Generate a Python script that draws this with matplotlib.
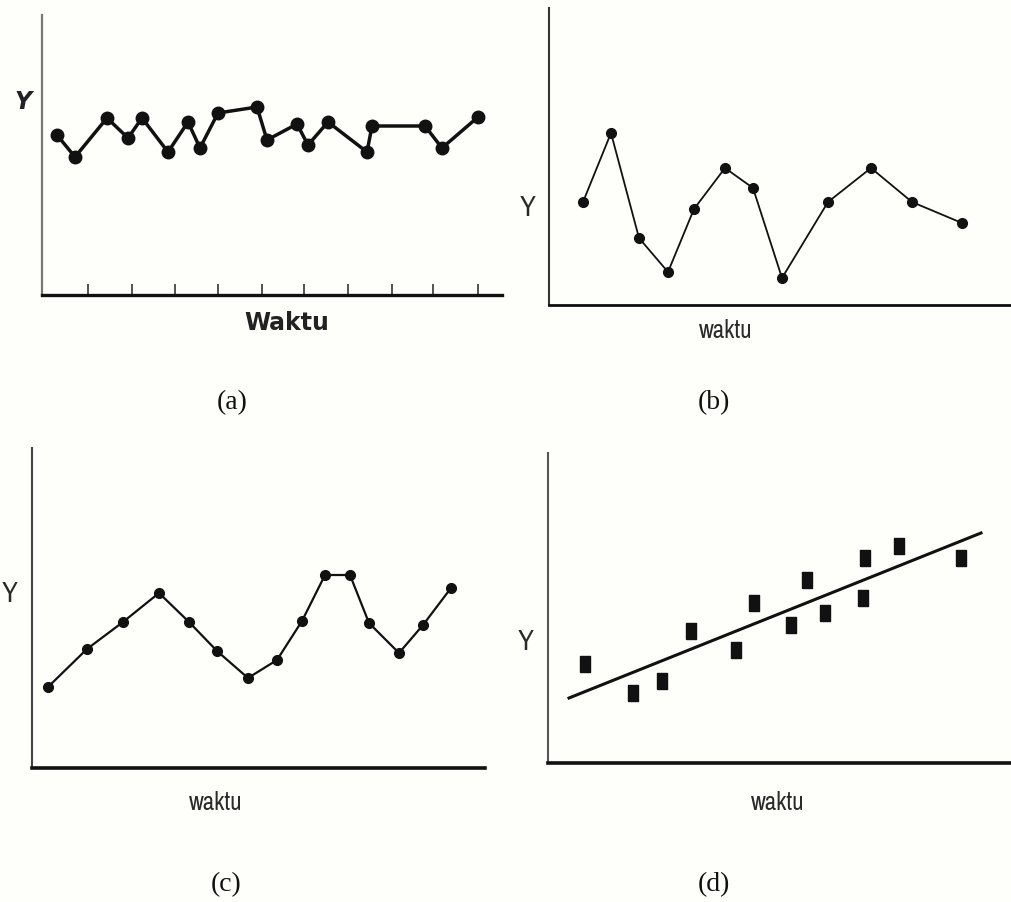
import numpy as np
import matplotlib
matplotlib.use("Agg")
import matplotlib.pyplot as plt
from matplotlib import font_manager

W, H = 1012, 902

# (a) stationary series, values read in pixels from the axes origin
a_x = [15, 33, 65, 86, 100, 126, 146, 158, 176, 215, 225, 255, 266, 286, 325, 330, 383, 400, 436]
a_y = [160, 138, 177, 157, 177, 143, 173, 147, 182, 188, 155, 171, 150, 173, 143, 169, 169, 147, 178]
a_ticks = [46, 90, 133, 176, 220, 262, 306, 350, 391, 436]

# (b) irregular series
b_x = [34, 62, 90, 119, 145, 176, 204, 233, 279, 322, 363, 413]
b_y = [103, 172, 67, 33, 96, 137, 117, 27, 103, 137, 103, 82]

# (c) seasonal series
c_x = [16, 55, 91, 127, 157, 185, 216, 245, 270, 293, 318, 337, 367, 391, 419]
c_y = [81, 119, 146, 175, 146, 117, 90, 108, 147, 193, 193, 145, 115, 143, 180]

# (d) trend: scatter plus fitted line
d_x = [37, 85, 114, 143, 188, 206, 243, 259, 277, 315, 317, 351, 413]
d_y = [99, 70, 82, 132, 113, 160, 138, 183, 150, 165, 205, 217, 205]
trend_x = [21, 433]
trend_y = [65, 230]

# pick a condensed face if one is installed, else plain DejaVu
names = sorted(set(f.name for f in font_manager.fontManager.ttflist))
cond = [n for n in names if 'Narrow' in n or 'Condensed' in n]
narrow = cond[:1] + ['DejaVu Sans']
serif = ['Liberation Serif', 'DejaVu Serif']

fig = plt.figure(figsize=(W / 100, H / 100), dpi=100)
fig.patch.set_facecolor('#fefefb')


def make_axes(left, bottom, right, top, lw_left, lw_bottom, col_left='#555555'):
    ax = fig.add_axes([left / W, 1 - bottom / H, (right - left) / W, (bottom - top) / H])
    ax.set_xlim(0, right - left)
    ax.set_ylim(0, bottom - top)
    ax.set_facecolor('none')
    for s in ['top', 'right']:
        ax.spines[s].set_visible(False)
    ax.spines['left'].set_linewidth(lw_left)
    ax.spines['left'].set_color(col_left)
    ax.spines['bottom'].set_linewidth(lw_bottom)
    ax.spines['bottom'].set_color('#111111')
    ax.set_xticks([])
    ax.set_yticks([])
    return ax


def ftext(x, y, s, **kw):
    fig.text(x / W, 1 - y / H, s, ha='center', va='center', **kw)


# panel (a)
ax1 = make_axes(42, 295, 502, 15, 1.6, 2.4, '#777777')
ax1.plot(a_x, a_y, color='#111111', lw=2.5, marker='o', ms=9, solid_joinstyle='round')
ax1.set_xticks(a_ticks)
ax1.tick_params(axis='x', direction='in', length=8, width=1.3, color='#444444', labelbottom=False)
ftext(23, 102, 'Y', fontsize=17, fontweight='bold', fontstyle='italic', color='#222222')
ftext(287, 323, 'Waktu', fontsize=17, fontweight='bold', color='#222222')

# panel (b)
ax2 = make_axes(549, 305, 1012, 8, 1.5, 2.0, '#333333')
ax2.plot(b_x, b_y, color='#111111', lw=1.3, marker='o', ms=7)
ftext(528, 207, 'Y', fontsize=21, family=narrow, fontstretch='condensed', color='#2a2a2a')
ftext(726, 330, 'waktu', fontsize=18, family=narrow, fontstretch='condensed', color='#2a2a2a')

# panel (c)
ax3 = make_axes(32, 768, 485, 448, 1.5, 2.6, '#444444')
ax3.plot(c_x, c_y, color='#111111', lw=1.6, marker='o', ms=7)
ftext(10, 593, 'Y', fontsize=21, family=narrow, fontstretch='condensed', color='#2a2a2a')
ftext(216, 803, 'waktu', fontsize=18, family=narrow, fontstretch='condensed', color='#2a2a2a')

# panel (d)
ax4 = make_axes(548, 763, 1012, 453, 1.5, 2.6, '#555555')
rect = [(-0.32, -0.5), (0.32, -0.5), (0.32, 0.5), (-0.32, 0.5), (-0.32, -0.5)]
ax4.plot(d_x, d_y, ls='none', marker=rect, ms=11, color='#111111')
ax4.plot(trend_x, trend_y, color='#111111', lw=2.2)
ftext(526, 642, 'Y', fontsize=21, family=narrow, fontstretch='condensed', color='#2a2a2a')
ftext(778, 803, 'waktu', fontsize=18, family=narrow, fontstretch='condensed', color='#2a2a2a')

# captions
for x, y, s in [(232, 403, '(a)'), (714, 403, '(b)'), (226, 885, '(c)'), (714, 885, '(d)')]:
    ftext(x, y, s, fontsize=20, family=serif, color='#111111')

fig.savefig('out.png', dpi=100, facecolor=fig.get_facecolor())
